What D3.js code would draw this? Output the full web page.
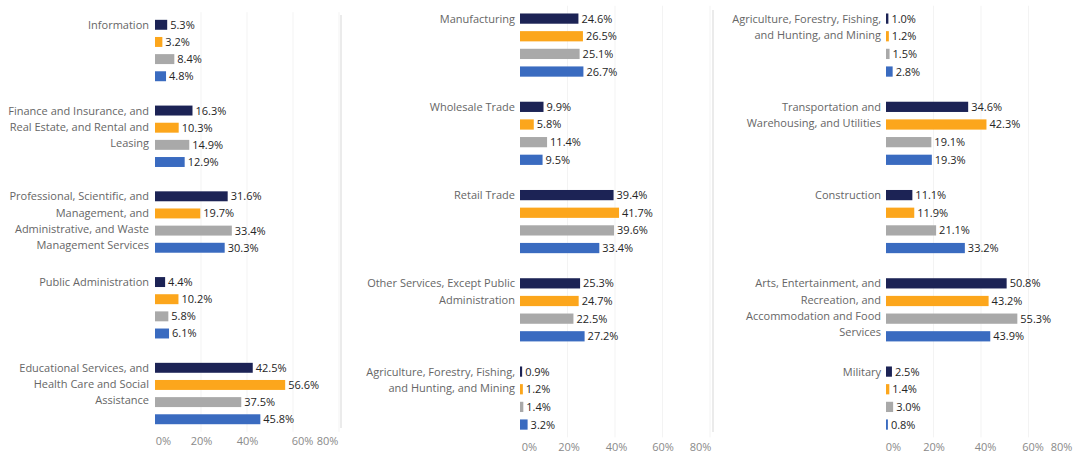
<!DOCTYPE html>
<html>
<head>
<meta charset="utf-8">
<script src="https://cdn.jsdelivr.net/npm/d3@7"></script>
<style>
  html, body { margin: 0; padding: 0; background: #ffffff; }
  svg { display: block; font-family: "Open Sans", "Noto Sans", sans-serif; }
</style>
</head>
<body>
<svg id="chart" width="1073" height="455"></svg>
<script>
// Industry groups per panel (line breaks mark label wrapping)
const leftCategories = [
  "Information",
  "Finance and Insurance, and\nReal Estate, and Rental and\nLeasing",
  "Professional, Scientific, and\nManagement, and\nAdministrative, and Waste\nManagement Services",
  "Public Administration",
  "Educational Services, and\nHealth Care and Social\nAssistance"
];
const leftNavy   = [5.3, 16.3, 31.6, 4.4, 42.5];
const leftOrange = [3.2, 10.3, 19.7, 10.2, 56.6];
const leftGray   = [8.4, 14.9, 33.4, 5.8, 37.5];
const leftBlue   = [4.8, 12.9, 30.3, 6.1, 45.8];

const midCategories = [
  "Manufacturing",
  "Wholesale Trade",
  "Retail Trade",
  "Other Services, Except Public\nAdministration",
  "Agriculture, Forestry, Fishing,\nand Hunting, and Mining"
];
const midNavy   = [24.6, 9.9, 39.4, 25.3, 0.9];
const midOrange = [26.5, 5.8, 41.7, 24.7, 1.2];
const midGray   = [25.1, 11.4, 39.6, 22.5, 1.4];
const midBlue   = [26.7, 9.5, 33.4, 27.2, 3.2];

const rightCategories = [
  "Agriculture, Forestry, Fishing,\nand Hunting, and Mining",
  "Transportation and\nWarehousing, and Utilities",
  "Construction",
  "Arts, Entertainment, and\nRecreation, and\nAccommodation and Food\nServices",
  "Military"
];
const rightNavy   = [1.0, 34.6, 11.1, 50.8, 2.5];
const rightOrange = [1.2, 42.3, 11.9, 43.2, 1.4];
const rightGray   = [1.5, 19.1, 21.1, 55.3, 3.0];
const rightBlue   = [2.8, 19.3, 33.2, 43.9, 0.8];

const tickValues = [0, 20, 40, 60, 80];
const seriesColors = ["#1c2355", "#fca61c", "#a9a9a9", "#3a6bc0"];

const svg = d3.select("#chart");

// Panel layout
const panels = [
  { cats: leftCategories, series: [leftNavy, leftOrange, leftGray, leftBlue],
    x0: 155, x1: 339, labelRight: 149, yFirst: 24.8, slot: 17.15, axisY: 441,
    tickNudge: [8, 0, 0, 9, -12] },
  { cats: midCategories, series: [midNavy, midOrange, midGray, midBlue],
    x0: 520, x1: 710, labelRight: 515, yFirst: 18.6, slot: 17.65, axisY: 447,
    tickNudge: [9, 1, 1, 0, -10] },
  { cats: rightCategories, series: [rightNavy, rightOrange, rightGray, rightBlue],
    x0: 886, x1: 1076, labelRight: 881, yFirst: 18.6, slot: 17.65, axisY: 447,
    tickNudge: [7, 0, 4, 4, -15] }
];

// Card separators
[{ x: 341, y1: 15, y2: 428 }, { x: 713, y1: 10, y2: 432 }].forEach(s => {
  svg.append("line")
    .attr("x1", s.x).attr("x2", s.x).attr("y1", s.y1).attr("y2", s.y2)
    .attr("stroke", "#e4e4e4").attr("stroke-width", 1.5);
});

panels.forEach(p => {
  const g = svg.append("g");
  const nSlots = p.cats.length * 5 - 1;
  const top = p.yFirst - p.slot / 2;

  const x = d3.scaleLinear().domain([0, 80]).range([p.x0, p.x1]);
  const y = d3.scaleBand()
    .domain(d3.range(nSlots))
    .range([top, top + nSlots * p.slot])
    .paddingInner(0.42)
    .paddingOuter(0.21);

  // faint gridlines
  g.append("g").selectAll("line")
    .data(tickValues.slice(1))
    .join("line")
    .attr("x1", d => x(d)).attr("x2", d => x(d))
    .attr("y1", top - 4).attr("y2", top + nSlots * p.slot + 4)
    .attr("stroke", "#f3f3f3").attr("stroke-width", 1);

  // bars + value labels
  const rows = [];
  p.cats.forEach((c, ci) => {
    p.series.forEach((vals, si) => {
      rows.push({ slot: ci * 5 + si, value: vals[ci], color: seriesColors[si] });
    });
  });

  g.append("g").selectAll("rect")
    .data(rows)
    .join("rect")
    .attr("x", x(0))
    .attr("y", d => y(d.slot))
    .attr("width", d => Math.max(1.5, x(d.value) - x(0)))
    .attr("height", y.bandwidth())
    .attr("fill", d => d.color);

  g.append("g").selectAll("text")
    .data(rows)
    .join("text")
    .attr("x", d => Math.max(x(0) + 1.5, x(d.value)) + 3)
    .attr("y", d => y(d.slot) + y.bandwidth() / 2)
    .attr("dy", "0.36em")
    .attr("font-size", 11)
    .attr("fill", "#252525")
    .text(d => d.value.toFixed(1) + "%");

  // category labels
  const lineH = 16.3;
  const labels = g.append("g").selectAll("text")
    .data(p.cats)
    .join("text")
    .attr("x", p.labelRight)
    .attr("y", (c, i) => y(i * 5) + y.bandwidth() / 2)
    .attr("text-anchor", "end")
    .attr("font-size", 11)
    .attr("fill", "#666666");
  labels.each(function(c) {
    const t = d3.select(this);
    c.split("\n").forEach((line, li) => {
      t.append("tspan")
        .attr("x", p.labelRight)
        .attr("dy", li === 0 ? "0.36em" : lineH)
        .text(line);
    });
  });

  // x axis
  const axis = d3.axisBottom(x)
    .tickValues(tickValues)
    .tickFormat(d => d + "%")
    .tickSize(0)
    .tickPadding(0);
  const ag = g.append("g")
    .attr("transform", `translate(0,${p.axisY})`)
    .call(axis);
  ag.select(".domain").remove();
  ag.selectAll("text")
    .attr("font-family", "'Open Sans', 'Noto Sans', sans-serif")
    .attr("font-size", 11)
    .attr("fill", "#8a8a8a")
    .attr("dy", "0.36em")
    .attr("dx", (d, i) => p.tickNudge[i]);
});
</script>
</body>
</html>
